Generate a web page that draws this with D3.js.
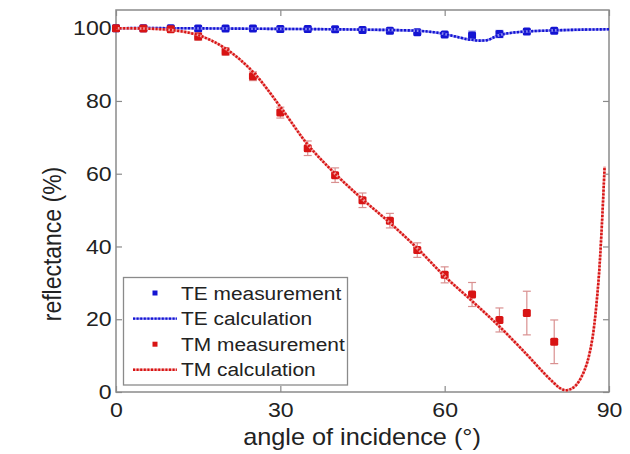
<!DOCTYPE html>
<html>
<head>
<meta charset="utf-8">
<script src="https://cdn.jsdelivr.net/npm/d3@7"></script>
<style>
  body { margin: 0; background: #fff; }
  text { font-family: "Liberation Sans", Arial, sans-serif; fill: #222; }
</style>
</head>
<body>
<svg id="chart" width="630" height="454"></svg>
<script>
// measured angles (deg)
var measAngles = [0, 5, 10, 15, 20, 25, 30, 35, 40, 45, 50, 55, 60, 65, 70, 75, 80];
// TE measurement (%) and error
var teMeas = [100, 100, 100, 99.9, 99.9, 99.9, 99.8, 99.8, 99.7, 99.5, 99.3, 98.9, 98.3, 98.0, 98.4, 99.1, 99.3];
var teErr  = [0.3, 0.3, 0.3, 0.3, 0.3, 0.3, 0.3, 0.3, 0.3, 0.4, 0.4, 0.4, 0.5, 1.2, 1.0, 0.5, 0.4];
// TM measurement (%) and error
var tmMeas = [100, 99.9, 99.7, 97.7, 93.6, 86.8, 76.8, 67, 59.6, 52.7, 47.1, 39, 32.2, 26.8, 19.8, 21.7, 13.8];
var tmErr  = [0.3, 0.3, 0.5, 1, 1, 1.2, 1.5, 2, 2, 2, 2, 2, 2.2, 3.3, 3.3, 6, 6];

// TE calculation curve
var teCalcAngles = [0, 10, 20, 30, 40, 45, 50, 55, 58, 60, 62, 64, 65, 66, 67, 68, 69, 70, 72, 75, 80, 85, 90];
var teCalc = [100, 100, 99.9, 99.8, 99.7, 99.6, 99.5, 99.3, 98.9, 98.4, 97.7, 97.0, 96.8, 96.6, 96.6, 96.8, 97.5, 98.1, 98.7, 99.1, 99.4, 99.6, 99.7];
// TM calculation curve
var tmCalcAngles = [0, 5, 10, 15, 20, 25, 30, 35, 40, 45, 50, 55, 60, 65, 70, 75, 78, 80, 81, 82, 83, 84, 85, 86, 87, 88, 88.6, 89.2];
var tmCalc = [100, 99.9, 99.5, 98.1, 94.4, 88, 78.4, 68, 60, 53, 46.5, 39.5, 31.8, 25, 18, 10.3, 5.4, 2.4, 1.1, 0.5, 0.8, 1.9, 4.2, 8.0, 15, 29, 43, 62];

var xTicks = [0, 30, 60, 90];
var yTicks = [0, 20, 40, 60, 80, 100];
var legendLabels = ["TE measurement", "TE calculation", "TM measurement", "TM calculation"];

var blue = "#1414d2", blueLight = "#8c8cf0";
var red = "#d81414", redLight = "#f0a0a0";
var axisGray = "#8a8a8a";

var svg = d3.select("#chart");

// plot box in pixels (window.top is reserved, so plotTop)
var plotLeft = 116, plotRight = 609, plotTop = 10, plotBottom = 392;

var x = d3.scaleLinear().domain([0, 90]).range([plotLeft, plotRight]);
var y = d3.scaleLinear().domain([0, 105]).range([plotBottom, plotTop]);

// bottom axis with labels, ticks pointing in
var gx = svg.append("g")
    .attr("transform", "translate(0," + plotBottom + ")")
    .call(d3.axisBottom(x).tickValues(xTicks).tickSizeInner(-6).tickSizeOuter(0).tickPadding(10));
// top axis, ticks only
var gxt = svg.append("g")
    .attr("transform", "translate(0," + plotTop + ")")
    .call(d3.axisTop(x).tickValues(xTicks).tickSizeInner(-6).tickSizeOuter(0).tickFormat(""));
// left axis
var gy = svg.append("g")
    .attr("transform", "translate(" + plotLeft + ",0)")
    .call(d3.axisLeft(y).tickValues(yTicks).tickSizeInner(-6).tickSizeOuter(0).tickPadding(4));
// right axis, ticks only
var gyr = svg.append("g")
    .attr("transform", "translate(" + plotRight + ",0)")
    .call(d3.axisRight(y).tickValues(yTicks).tickSizeInner(-6).tickSizeOuter(0).tickFormat(""));

[gx, gxt, gy, gyr].forEach(function(g) {
  g.select(".domain").remove();
  g.selectAll(".tick line").attr("stroke", axisGray).attr("stroke-width", 1.2);
  g.selectAll(".tick text")
    .attr("fill", "#222")
    .style("font-size", "21px")
    .style("font-family", "'Liberation Sans', Arial, sans-serif")
    .attr("transform", "scale(1.1,1)");
});

// the axes box
svg.append("rect")
    .attr("x", plotLeft).attr("y", plotTop)
    .attr("width", plotRight - plotLeft).attr("height", plotBottom - plotTop)
    .attr("fill", "none")
    .attr("stroke", axisGray)
    .attr("stroke-width", 1.5);

// axis titles
svg.append("text")
    .attr("transform", "translate(362,445) scale(1.1,1)")
    .attr("text-anchor", "middle")
    .style("font-size", "23px")
    .text("angle of incidence (°)");

svg.append("text")
    .attr("transform", "translate(61,244) scale(1.1,1) rotate(-90)")
    .attr("text-anchor", "middle")
    .style("font-size", "23px")
    .text("reflectance (%)");

// smooth curve through the read-off points
var line = d3.line()
    .x(function(d) { return x(d[0]); })
    .y(function(d) { return y(d[1]); })
    .curve(d3.curveCatmullRom.alpha(0.5));

function drawErrorBars(vals, errs, color) {
  var g = svg.append("g").attr("stroke", color).attr("stroke-width", 1.2);
  measAngles.forEach(function(a, i) {
    var cx = x(a), y0 = y(vals[i] - errs[i]), y1 = y(vals[i] + errs[i]);
    g.append("line").attr("x1", cx).attr("x2", cx).attr("y1", y0).attr("y2", y1);
    g.append("line").attr("x1", cx - 4).attr("x2", cx + 4).attr("y1", y0).attr("y2", y0);
    g.append("line").attr("x1", cx - 4).attr("x2", cx + 4).attr("y1", y1).attr("y2", y1);
  });
}

function drawMarkers(vals, color, size) {
  svg.append("g").selectAll("rect")
    .data(measAngles)
    .enter().append("rect")
      .attr("x", function(d) { return x(d) - size / 2; })
      .attr("y", function(d, i) { return y(vals[i]) - size / 2; })
      .attr("width", size).attr("height", size)
      .attr("rx", 1.5)
      .attr("fill", color);
}

function drawCalc(angles, vals, color, light) {
  var pts = angles.map(function(a, i) { return [a, vals[i]]; });
  svg.append("path")
      .datum(pts)
      .attr("fill", "none")
      .attr("stroke", light)
      .attr("stroke-width", 2.6)
      .attr("d", line);
  svg.append("path")
      .datum(pts)
      .attr("fill", "none")
      .attr("stroke", color)
      .attr("stroke-width", 2.6)
      .attr("stroke-dasharray", "2,1.6")
      .attr("d", line);
}

// same order as the legend
drawErrorBars(teMeas, teErr, "#9a9ae8");
drawMarkers(teMeas, blue, 8);
drawCalc(teCalcAngles, teCalc, blue, blueLight);
drawErrorBars(tmMeas, tmErr, "#d99090");
drawMarkers(tmMeas, red, 8);
drawCalc(tmCalcAngles, tmCalc, red, redLight);

// legend
var lg = svg.append("g");
lg.append("rect")
    .attr("x", 123.5).attr("y", 277.5)
    .attr("width", 224).attr("height", 107.5)
    .attr("fill", "#fff")
    .attr("stroke", axisGray)
    .attr("stroke-width", 1.3);

var legendColors = [blue, blue, red, red];
var legendLight = [blueLight, blueLight, redLight, redLight];
legendLabels.forEach(function(lab, i) {
  var ly = 293 + i * 25.6;
  if (i % 2 == 0) {
    lg.append("rect")
      .attr("x", 152.5).attr("y", ly - 2.5)
      .attr("width", 5).attr("height", 5)
      .attr("fill", legendColors[i]);
  } else {
    lg.append("line")
      .attr("x1", 133).attr("x2", 177).attr("y1", ly).attr("y2", ly)
      .attr("stroke", legendLight[i]).attr("stroke-width", 2.4);
    lg.append("line")
      .attr("x1", 133).attr("x2", 177).attr("y1", ly).attr("y2", ly)
      .attr("stroke", legendColors[i]).attr("stroke-width", 2.4)
      .attr("stroke-dasharray", "2,1.6");
  }
  lg.append("text")
    .attr("transform", "translate(181," + ly + ") scale(1.1,1)")
    .attr("dy", "0.35em")
    .style("font-size", "19px")
    .text(lab);
});
</script>
</body>
</html>
